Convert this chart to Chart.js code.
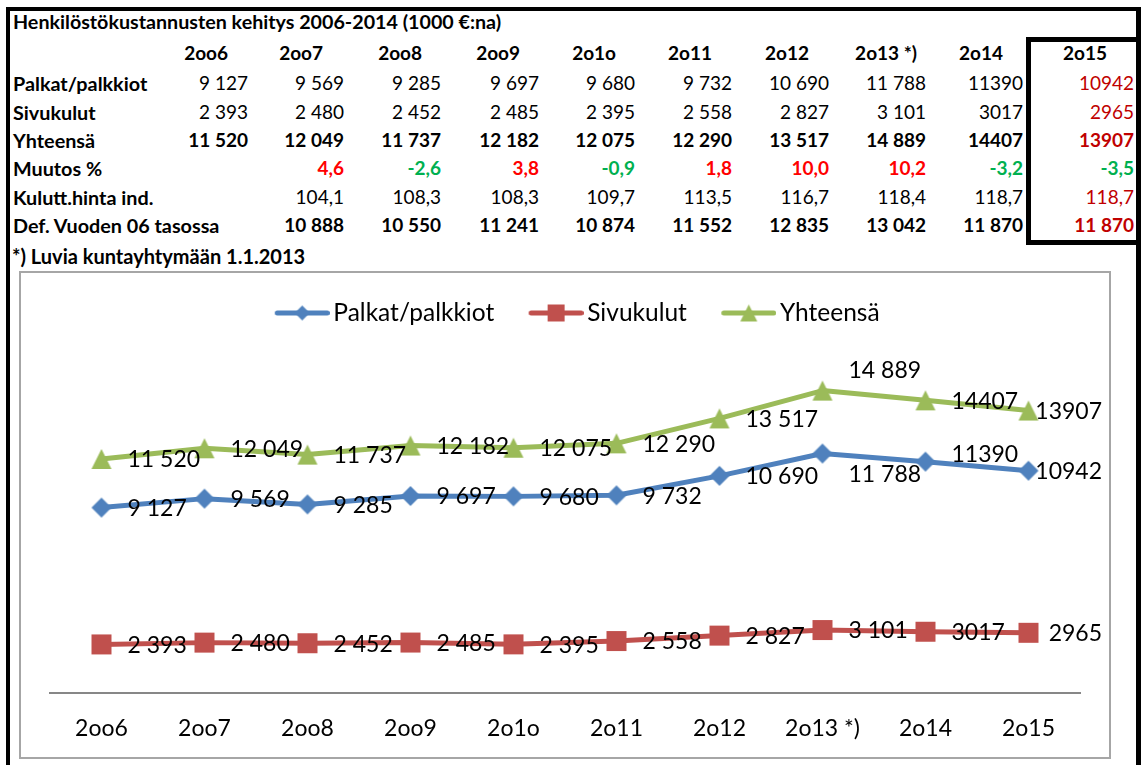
<!DOCTYPE html>
<html>
<head>
<meta charset="utf-8">
<script src="https://cdn.jsdelivr.net/npm/chart.js@4.4.1/dist/chart.umd.min.js"></script>
<style>
    body { margin: 0; width: 1142px; height: 765px; overflow: hidden; background: #fff; position: relative; font-family: Lato, sans-serif; }
    .bar { position: absolute; background: #000; }
    .cell { position: absolute; white-space: nowrap; height: 24px; line-height: 24px; font-size: 19px; color: #000; }
    .b { font-weight: bold; }
    #box2015 { position: absolute; left: 1026px; top: 37px; width: 115px; height: 208px; border: 5px solid #000; box-sizing: border-box; }
    #chartBox { position: absolute; left: 19px; top: 271px; width: 1092px; height: 488px; border: 2px solid #a6a6a6; box-sizing: border-box; }
    #chart { display: block; }
</style>
</head>
<body>
<div class="bar" style="left:6px;top:7px;width:1135px;height:4px"></div>
<div class="bar" style="left:6px;top:7px;width:4px;height:758px"></div>
<div class="bar" style="left:1136px;top:7px;width:5px;height:758px"></div>
<div id="box2015"></div>
<div id="sheet"></div>
<div id="chartBox"><canvas id="chart" width="1088" height="484"></canvas></div>

<script>
// Data (1000 €)
const years = ['2oo6', '2oo7', '2oo8', '2oo9', '2o1o', '2o11', '2o12', '2o13 *)', '2o14', '2o15'];
const palkat = [9127, 9569, 9285, 9697, 9680, 9732, 10690, 11788, 11390, 10942];
const sivukulut = [2393, 2480, 2452, 2485, 2395, 2558, 2827, 3101, 3017, 2965];
const yhteensa = [11520, 12049, 11737, 12182, 12075, 12290, 13517, 14889, 14407, 13907];
const muutos = [null, 4.6, -2.6, 3.8, -0.9, 1.8, 10.0, 10.2, -3.2, -3.5];
const kuluttIndeksi = [null, 104.1, 108.3, 108.3, 109.7, 113.5, 116.7, 118.4, 118.7, 118.7];
const deflatoitu = [null, 10888, 10550, 11241, 10874, 11552, 12835, 13042, 11870, 11870];

const title = 'Henkilöstökustannusten kehitys 2006-2014 (1000 €:na)';
const footnote = '*) Luvia kuntayhtymään 1.1.2013';

// 2014 and 2015 were typed without thousand separator
const plainFrom = 8;

const blue = '#4f81bd';
const red = '#c0504d';
const green = '#9bbb59';

function fmtInt(v, grouped) {
    if (v == null) return '';
    const s = String(v);
    return grouped ? s.replace(/\B(?=(\d{3})+(?!\d))/g, ' ') : s;
}
function fmtDec(v) {
    return v == null ? '' : v.toFixed(1).replace('.', ',');
}

// ---- table ----
const headerY = 53;
const rowY = [83, 112, 139.5, 168, 197, 225];
const valueRight = [248, 344, 441, 539, 635, 732, 829, 926, 1023, 1134];
const headerRight = [228, 323, 422, 520, 616, 712, 809, 917, 1003, 1107];

const rows = [
    { label: 'Palkat/palkkiot', text: palkat.map((v, i) => fmtInt(v, i < plainFrom)) },
    { label: 'Sivukulut', text: sivukulut.map((v, i) => fmtInt(v, i < plainFrom)) },
    { label: 'Yhteensä', text: yhteensa.map((v, i) => fmtInt(v, i < plainFrom)), bold: true },
    { label: 'Muutos %', text: muutos.map(fmtDec), bold: true,
      color: i => muutos[i] > 0 ? '#ff0000' : '#00b050', keepLast: true },
    { label: 'Kulutt.hinta ind.', text: kuluttIndeksi.map(fmtDec) },
    { label: 'Def. Vuoden 06 tasossa', text: deflatoitu.map(v => fmtInt(v, true)), bold: true }
];

const sheet = document.getElementById('sheet');
function addCell(text, y, opts) {
    const d = document.createElement('div');
    d.className = 'cell' + (opts.bold ? ' b' : '');
    d.textContent = text;
    d.style.top = (y - 12) + 'px';
    if (opts.left != null) d.style.left = opts.left + 'px';
    if (opts.right != null) d.style.right = (1142 - opts.right) + 'px';
    if (opts.size) d.style.fontSize = opts.size + 'px';
    if (opts.color) d.style.color = opts.color;
    sheet.appendChild(d);
}

addCell(title, 22, { left: 13, bold: true, size: 19.7 });
years.forEach((y, i) => addCell(y, headerY, { right: headerRight[i], bold: true }));
rows.forEach((row, r) => {
    addCell(row.label, rowY[r], { left: 13, bold: true, size: 19.8 });
    row.text.forEach((t, i) => {
        if (!t) return;
        let color = row.color ? row.color(i) : '#000';
        if (i === years.length - 1 && !row.keepLast) color = '#c00000';
        addCell(t, rowY[r], { right: valueRight[i], bold: row.bold, color: color });
    });
});
addCell(footnote, 256, { left: 12, bold: true, size: 20 });

// ---- chart ----
function marker(shape, color, s) {
    const c = document.createElement('canvas');
    c.width = s + 2;
    c.height = s + 2;
    const g = c.getContext('2d');
    const m = (s + 2) / 2, h = s / 2;
    g.fillStyle = color;
    g.beginPath();
    if (shape === 'diamond') {
        g.moveTo(m, m - h); g.lineTo(m + h, m); g.lineTo(m, m + h); g.lineTo(m - h, m);
    } else if (shape === 'square') {
        g.rect(m - h, m - h, s, s);
    } else {
        g.moveTo(m, m - h); g.lineTo(m + h, m + h); g.lineTo(m - h, m + h);
    }
    g.closePath();
    g.fill();
    return c;
}

// legend symbol: line with marker, drawn at the right side of a wider image
function legendIcon(shape, color, s) {
    const c = document.createElement('canvas');
    c.width = 88;
    c.height = 24;
    const g = c.getContext('2d');
    g.strokeStyle = color;
    g.lineWidth = 5;
    g.lineCap = 'round';
    g.beginPath();
    g.moveTo(35.5, 12);
    g.lineTo(85.5, 12);
    g.stroke();
    g.drawImage(marker(shape, color, s), 60.5 - (s + 2) / 2, 12 - (s + 2) / 2);
    return c;
}

const icons = [legendIcon('diamond', blue, 15), legendIcon('square', red, 17), legendIcon('triangle', green, 17)];

// label tweaks where the labels were moved by hand
const labelNudge = [{ 7: 20, 8: -8 }, {}, { 7: -21 }];

const valueLabels = {
    id: 'valueLabels',
    afterDatasetsDraw(chart) {
        const ctx = chart.ctx;
        ctx.save();
        ctx.font = '23px Lato';
        ctx.fillStyle = '#000';
        ctx.textBaseline = 'middle';
        chart.data.datasets.forEach((ds, i) => {
            chart.getDatasetMeta(i).data.forEach((pt, j) => {
                const text = fmtInt(ds.data[j], j < plainFrom);
                const w = ctx.measureText(text).width;
                let x = pt.x + 26;
                if (x + w > chart.width - 7) x = chart.width - 7 - w;
                ctx.fillText(text, x, pt.y + 1 + (labelNudge[i][j] || 0));
            });
        });
        ctx.restore();
    }
};

function series(label, data, color, shape) {
    return {
        label: label,
        data: data,
        borderColor: color,
        backgroundColor: color,
        borderWidth: 5,
        borderJoinStyle: 'round',
        borderCapStyle: 'round',
        tension: 0,
        pointStyle: marker(shape, color, 20),
        pointRadius: 10
    };
}

new Chart(document.getElementById('chart'), {
    type: 'line',
    data: {
        labels: years,
        datasets: [
            series('Palkat/palkkiot', palkat, blue, 'diamond'),
            series('Sivukulut', sivukulut, red, 'square'),
            series('Yhteensä', yhteensa, green, 'triangle')
        ]
    },
    options: {
        responsive: false,
        animation: false,
        layout: { padding: { top: 17.75, left: 29, right: 29, bottom: -7.6 } },
        plugins: {
            legend: {
                labels: {
                    usePointStyle: true,
                    pointStyleWidth: 70.75,
                    padding: 10,
                    color: '#000',
                    font: { family: 'Lato', size: 24.5 },
                    generateLabels(chart) {
                        const items = Chart.defaults.plugins.legend.labels.generateLabels(chart);
                        items.forEach((it, i) => { it.pointStyle = icons[i]; });
                        return items;
                    }
                }
            },
            // empty title used as a gap between legend and plot
            title: { display: true, text: '', weight: 500, font: { size: 1, lineHeight: 1 }, padding: { top: 0, bottom: 31.75 } },
            tooltip: { enabled: false }
        },
        scales: {
            x: {
                offset: true,
                grid: { display: false, drawTicks: false },
                border: { display: true, color: '#878787', width: 2 },
                ticks: { color: '#000', font: { family: 'Lato', size: 23 }, padding: 22, maxRotation: 0, autoSkip: false }
            },
            y: { display: false, min: 0, max: 16000 }
        }
    },
    plugins: [valueLabels]
});
</script>
</body>
</html>
